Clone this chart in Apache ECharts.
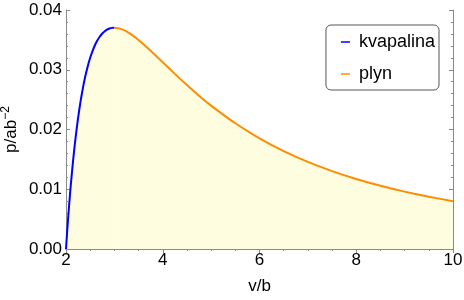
<!DOCTYPE html>
<html><head><meta charset="utf-8">
<script src="https://cdn.jsdelivr.net/npm/echarts@6/dist/echarts.min.js"></script>
<style>html,body{margin:0;padding:0;background:#fff}#c{width:464px;height:300px}</style>
</head><body><div id="c"></div>
<script>
const xTicks = [2, 4, 6, 8, 10];
const yTicks = [0, 0.01, 0.02, 0.03, 0.04];
const liquidV = [2.00, 2.01, 2.02, 2.03, 2.05, 2.075, 2.10, 2.15, 2.20, 2.25, 2.30, 2.35, 2.40, 2.45, 2.50, 2.55, 2.60, 2.65, 2.70, 2.75, 2.80, 2.85, 2.90, 2.95, 3.00];
const liquidP = [0, 0.00123, 0.00243, 0.00359, 0.00580, 0.00840, 0.01080, 0.01509, 0.01878, 0.02195, 0.02466, 0.02697, 0.02894, 0.03060, 0.03200, 0.03317, 0.03414, 0.03493, 0.03556, 0.03606, 0.03644, 0.03672, 0.03690, 0.03701, 0.03704];
const gasV = [3.00, 3.10, 3.20, 3.30, 3.40, 3.50, 3.75, 4.00, 4.25, 4.50, 4.75, 5.00, 5.50, 6.00, 6.50, 7.00, 7.50, 8.00, 8.50, 9.00, 9.50, 10.00];
const gasP = [0.03704, 0.03692, 0.03662, 0.03617, 0.03562, 0.03499, 0.03319, 0.03125, 0.02931, 0.02744, 0.02566, 0.02400, 0.02104, 0.01852, 0.01639, 0.01458, 0.01304, 0.01172, 0.01058, 0.00960, 0.00875, 0.00800];
const seriesNames = ['kvapalina', 'plyn'];

const font = 'Liberation Sans, Arial, sans-serif';
const axisColor = '#8a8a8a';
const fillColor = '#fffde0';

function pairs(xs, ys){ return xs.map((x,i)=>[x, ys[i]]); }
const splitX = liquidV[liquidV.length-1];
const splitTop = liquidP[liquidP.length-1] * 0.985;

const chart = echarts.init(document.getElementById('c'));
const commonX = {
  type:'value', min:2, max:10, interval:2,
  axisLine:{show:true, lineStyle:{color:axisColor, width:1}},
  axisTick:{show:true, inside:true, length:4, lineStyle:{color:axisColor}},
  minorTick:{show:true, splitNumber:4, length:2, lineStyle:{color:axisColor}},
  splitLine:{show:false}
};
const commonY = {
  type:'value', min:0, max:0.04, interval:0.01,
  axisLine:{show:true, lineStyle:{color:axisColor, width:1}},
  axisTick:{show:true, inside:true, length:4, lineStyle:{color:axisColor}},
  minorTick:{show:true, splitNumber:5, length:2, lineStyle:{color:axisColor}},
  splitLine:{show:false}
};
chart.setOption({
  animation:false,
  grid:{left:66, right:11, top:10, bottom:51, containLabel:false, outerBoundsMode:'none'},
  legend:{
    orient:'vertical', right:25, top:25,
    data:seriesNames,
    icon:'rect', itemWidth:9, itemHeight:1.5, itemGap:14,
    borderColor:'#555', borderWidth:1, borderRadius:5,
    backgroundColor:'#fff',
    padding:[8, 4, 7, 15],
    textStyle:{fontFamily:font, fontSize:18, color:'#000', padding:[0,0,0,4]}
  },
  xAxis:[
    Object.assign({}, commonX, {
      position:'bottom',
      name:'v/b', nameLocation:'middle', nameGap:29, nameMoveOverlap:false,
      nameTextStyle:{fontFamily:font, fontSize:17, color:'#000'},
      axisLabel:{show:true, margin:3, fontFamily:font, fontSize:17, color:'#000',
        customValues: xTicks, formatter: v=>String(v)}
    }),
    Object.assign({}, commonX, {position:'top', axisLabel:{show:false}})
  ],
  yAxis:[
    Object.assign({}, commonY, {
      position:'left',
      name:'p/ab{sup|−2}', nameLocation:'middle', nameGap:44, nameRotate:90, nameMoveOverlap:false,
      nameTextStyle:{fontFamily:font, fontSize:17, color:'#000',
        rich:{sup:{fontFamily:font, fontSize:12, color:'#000', padding:[0,0,10,0]}}},
      axisLabel:{show:true, margin:4, fontFamily:font, fontSize:17, color:'#000',
        customValues: yTicks, formatter: v=>v.toFixed(2)}
    }),
    Object.assign({}, commonY, {position:'right', axisLabel:{show:false}})
  ],
  series:[
    {name:seriesNames[0], type:'line', data:pairs(liquidV, liquidP), smooth:0.2,
     showSymbol:false, symbol:'none', lineStyle:{color:'#0000ff', width:2}, itemStyle:{color:'#0000ff'},
     areaStyle:{color:fillColor, opacity:1}, z:3,
     markLine:{silent:true, symbol:'none', label:{show:false}, z:2,
       lineStyle:{color:'#ffffff', width:1, type:'solid'},
       data:[[{coord:[splitX, 0]}, {coord:[splitX, splitTop]}]]}},
    {name:seriesNames[1], type:'line', data:pairs(gasV, gasP), smooth:0.2,
     showSymbol:false, symbol:'none', lineStyle:{color:'#ff8c00', width:2}, itemStyle:{color:'#ff8c00'},
     areaStyle:{color:fillColor, opacity:1}, z:3}
  ]
});
</script></body></html>
